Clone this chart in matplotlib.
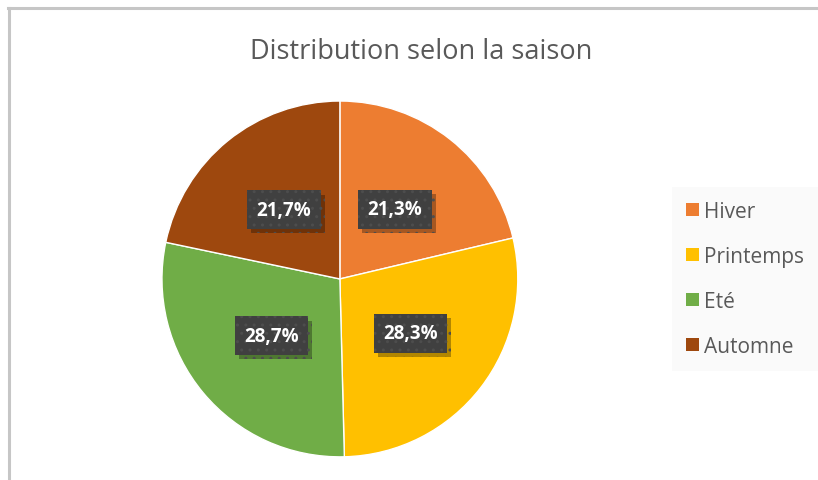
import numpy as np
import matplotlib.pyplot as plt
from matplotlib.patches import Patch
from matplotlib.lines import Line2D
import matplotlib.patheffects as pe

plt.rcParams['font.family'] = ['Open Sans', 'DejaVu Sans']

saisons = ['Hiver', 'Printemps', 'Eté', 'Automne']
parts = [21.3, 28.3, 28.7, 21.7]
etiquettes = ['21,3%', '28,3%', '28,7%', '21,7%']
couleurs = ['#ED7D31', '#FFC000', '#70AD47', '#9E480E']

fig = plt.figure(figsize=(8.18, 4.81), dpi=100)

# cadre gris (haut et gauche seulement visibles)
fig.add_artist(Line2D([8/818, 1], [1 - 8.5/481, 1 - 8.5/481], color='#c6c6c6', lw=2.2))
fig.add_artist(Line2D([8.5/818, 8.5/818], [0, 1 - 8.5/481], color='#c6c6c6', lw=2.2))

fig.text(0.515, 1 - 52/481, 'Distribution selon la saison', ha='center', va='center',
         fontsize=19.5, color='#595959')

ax = fig.add_axes([0.198, 0.048, 0.435, 0.740])
wedges, _ = ax.pie(parts, colors=couleurs, startangle=90, counterclock=False,
                   wedgeprops=dict(edgecolor='white', linewidth=1.0))
ax.set_xlim(-1, 1)
ax.set_ylim(-1, 1)
ax.set_aspect('equal')
ax.axis('off')

# étiquettes au centre des parts
cum = np.cumsum([0] + parts)
for i, lab in enumerate(etiquettes):
    mid = 90 - (cum[i] + parts[i] / 2) / 100 * 360
    x = 0.5 * np.cos(np.radians(mid))
    y = 0.5 * np.sin(np.radians(mid))
    t = ax.text(x, y, lab, ha='center', va='center', fontsize=13.5, fontweight='bold',
                color='white',
                bbox=dict(boxstyle='square,pad=0.5', facecolor='#404040',
                          edgecolor='#4d4d4d', linewidth=0, hatch='..'))
    t.get_bbox_patch().set_path_effects([
        pe.SimplePatchShadow(offset=(3, -3), shadow_rgbFace='black', alpha=0.3),
        pe.Normal()])

handles = [Patch(facecolor=c, edgecolor='none') for c in couleurs]
leg = fig.legend(handles, saisons, loc='upper left',
                 bbox_to_anchor=(672/818, 1 - 188/481), frameon=True,
                 fontsize=15, handlelength=0.6, handleheight=0.6,
                 handletextpad=0.25, labelspacing=1.15, borderpad=0.68,
                 borderaxespad=0, fancybox=False)
leg.get_frame().set_facecolor('#f9f9f9')
leg.get_frame().set_edgecolor('none')
for t in leg.get_texts():
    t.set_color('#595959')

fig.savefig('out.png', dpi=100)
